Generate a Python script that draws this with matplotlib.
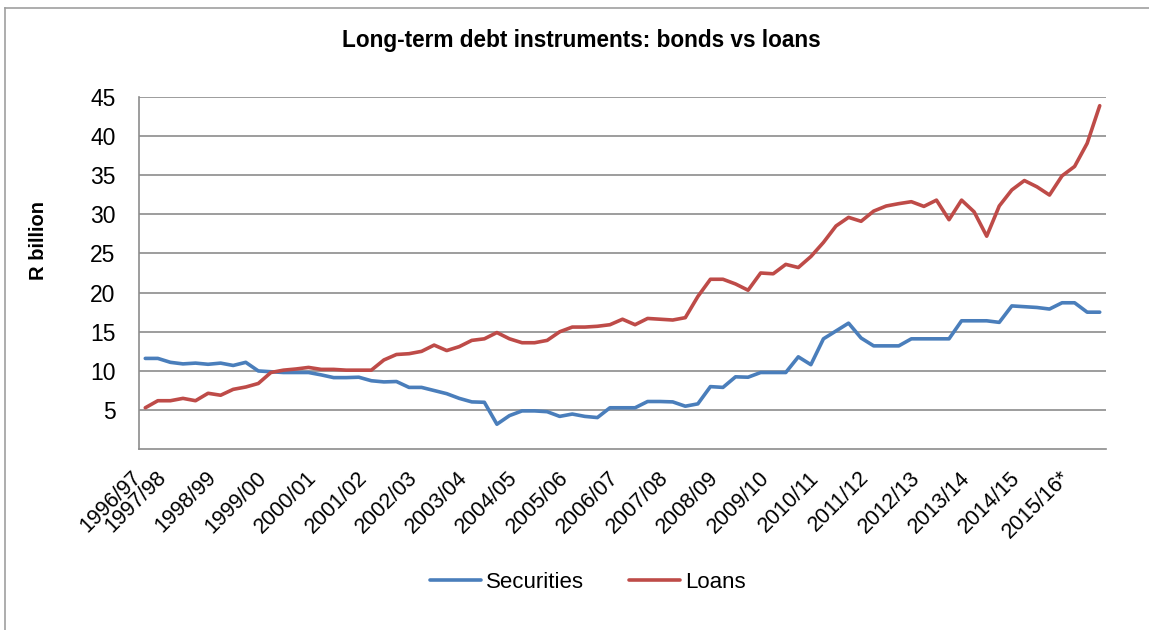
import matplotlib
matplotlib.use("Agg")
import matplotlib.pyplot as plt
from matplotlib.lines import Line2D
from matplotlib.transforms import ScaledTranslation

plt.rcParams['font.family'] = ['Liberation Sans', 'DejaVu Sans']

# Fiscal years on the category axis and how many quarters each contributes
fiscal_years = ['1996/97', '1997/98', '1998/99', '1999/00', '2000/01', '2001/02',
                '2002/03', '2003/04', '2004/05', '2005/06', '2006/07', '2007/08',
                '2008/09', '2009/10', '2010/11', '2011/12', '2012/13', '2013/14',
                '2014/15', '2015/16*']
quarters_per_year = [2, 4, 4, 4, 4, 4, 4, 4, 4, 4, 4, 4, 4, 4, 4, 4, 4, 4, 4, 3]

# Quarterly outstanding amounts, R billion
securities = [11.6, 11.6, 11.1, 10.9, 11.0, 10.85, 11.0, 10.7, 11.1, 10.0,
              9.9, 9.8, 9.8, 9.8, 9.5, 9.15, 9.15, 9.2, 8.75, 8.6,
              8.65, 7.9, 7.9, 7.5, 7.1, 6.5, 6.05, 6.0, 3.2, 4.3,
              4.9, 4.9, 4.8, 4.2, 4.5, 4.2, 4.05, 5.3, 5.3, 5.3,
              6.1, 6.1, 6.05, 5.5, 5.8, 8.0, 7.9, 9.25, 9.2, 9.8,
              9.8, 9.8, 11.8, 10.8, 14.1, 15.1, 16.1, 14.2, 13.2, 13.2,
              13.2, 14.1, 14.1, 14.1, 14.1, 16.4, 16.4, 16.4, 16.2, 18.3,
              18.2, 18.1, 17.9, 18.7, 18.7, 17.5, 17.5]
loans = [5.3, 6.2, 6.2, 6.5, 6.2, 7.15, 6.9, 7.65, 7.95, 8.4,
         9.8, 10.1, 10.25, 10.45, 10.2, 10.2, 10.1, 10.1, 10.1, 11.4,
         12.1, 12.2, 12.5, 13.3, 12.6, 13.1, 13.9, 14.1, 14.9, 14.1,
         13.6, 13.6, 13.9, 15.0, 15.6, 15.6, 15.7, 15.9, 16.6, 15.9,
         16.7, 16.6, 16.5, 16.8, 19.5, 21.7, 21.7, 21.1, 20.3, 22.5,
         22.4, 23.6, 23.2, 24.6, 26.4, 28.5, 29.6, 29.1, 30.4, 31.05,
         31.35, 31.6, 31.0, 31.8, 29.3, 31.8, 30.3, 27.2, 31.05, 33.1,
         34.3, 33.5, 32.45, 34.9, 36.1, 39.05, 43.85]

y_ticks = [5, 10, 15, 20, 25, 30, 35, 40, 45]

# One category per quarter; only the first quarter of each year is labelled
categories = []
for fy, n in zip(fiscal_years, quarters_per_year):
    categories += [fy] + [''] * (n - 1)

BLUE = '#4A7EBB'
RED = '#BE4B48'
GREY = '#8C8C8C'

fig = plt.figure(figsize=(11.49, 6.30), dpi=100)
ax = fig.add_axes([139 / 1149, 1 - 449.3 / 630, (1106 - 139) / 1149, (449.3 - 96.7) / 630])

x = list(range(len(categories)))
ax.plot(x, securities, color=BLUE, lw=2.6, solid_joinstyle='round', solid_capstyle='round',
        label='Securities', zorder=3)
ax.plot(x, loans, color=RED, lw=2.6, solid_joinstyle='round', solid_capstyle='round',
        label='Loans', zorder=3)

ax.set_xlim(-0.5, len(categories) - 0.5)
ax.set_ylim(0, 45)
ax.set_yticks(y_ticks)
ax.set_yticklabels([str(v) for v in y_ticks], fontsize=16.5)
ax.yaxis.grid(True, color=GREY, lw=1.2)
ax.set_axisbelow(True)

labelled = [i for i, c in enumerate(categories) if c]
ax.set_xticks(labelled)
ax.set_xticklabels([categories[i] for i in labelled], rotation=45, ha='right', va='top',
                   fontsize=15.5)
shift = ScaledTranslation(5 / 100, 0, fig.dpi_scale_trans)
for lbl in ax.get_xticklabels():
    lbl.set_transform(lbl.get_transform() + shift)
ax.tick_params(axis='both', length=0)
ax.tick_params(axis='x', pad=13)
ax.tick_params(axis='y', pad=17)

for side in ('top', 'right'):
    ax.spines[side].set_visible(False)
for side in ('left', 'bottom'):
    ax.spines[side].set_color(GREY)
    ax.spines[side].set_linewidth(1.2)

# Axis title
fig.text(39 / 1149, 1 - 240 / 630, 'R billion', rotation=90, ha='center', va='center',
         fontsize=14.5, fontweight='bold')

fig.text(581 / 1149, 1 - 40 / 630, 'Long-term debt instruments: bonds vs loans',
         ha='center', va='center', fontsize=16.3, fontweight='bold')

fig.legend(loc='center', bbox_to_anchor=(588 / 1149, 1 - 582 / 630), ncol=2, frameon=False,
           fontsize=16, handlelength=2.3, handletextpad=0.25, columnspacing=2.0)

# Chart frame
fig.add_artist(Line2D([5 / 1149, 5 / 1149], [0, 1 - 8 / 630], transform=fig.transFigure,
                      color='#A0A0A0', lw=1.2))
fig.add_artist(Line2D([5 / 1149, 1], [1 - 8 / 630, 1 - 8 / 630], transform=fig.transFigure,
                      color='#A0A0A0', lw=1.2))

fig.savefig('out.png', dpi=100, facecolor='white')
